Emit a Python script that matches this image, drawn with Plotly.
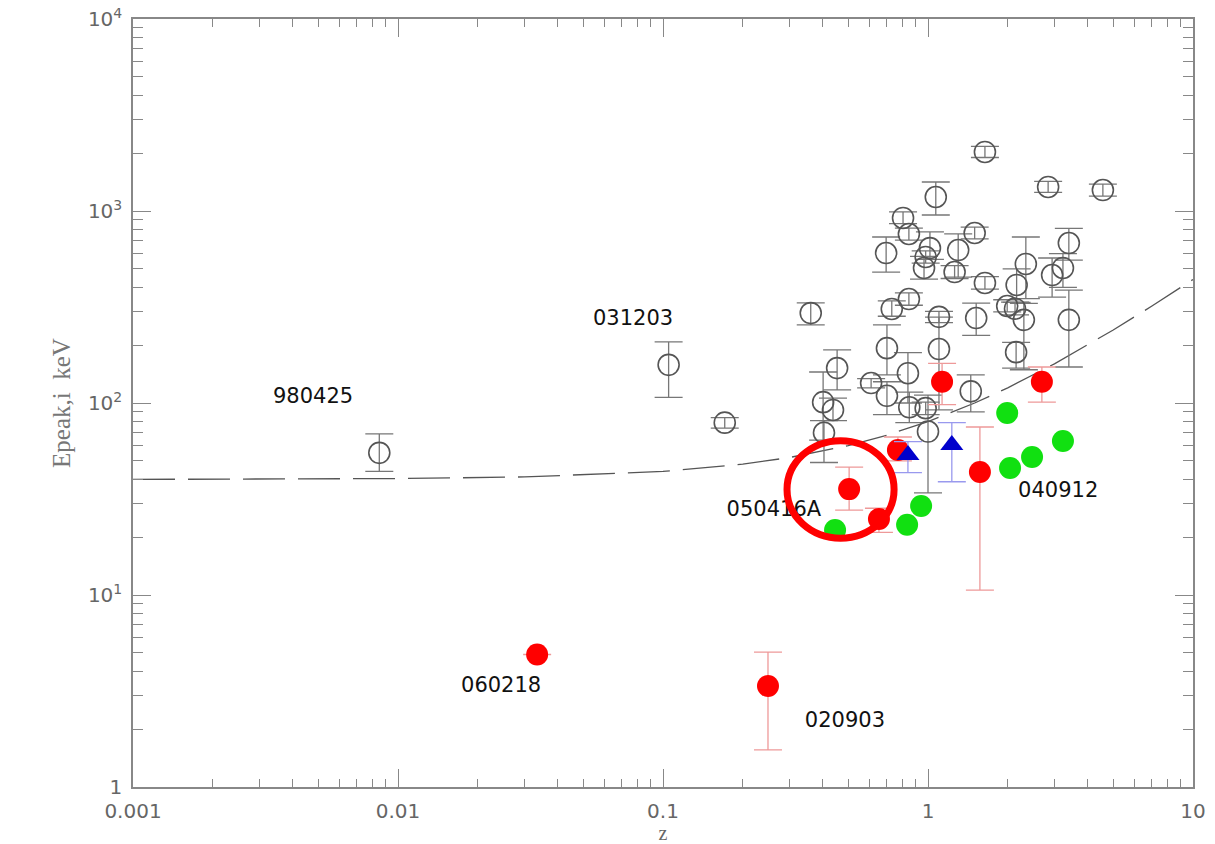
import plotly.graph_objects as go

# ---- GRBs with measured redshift (open circles) ----
grb_z = [0.0085, 0.105, 0.171, 0.361, 0.402, 0.405, 0.438, 0.454, 0.61, 0.695,
         0.70, 0.73, 0.70, 0.805, 0.847, 0.847, 0.84, 0.85, 0.966, 0.98,
         1.017, 1.0, 0.98, 1.07, 1.10, 1.10, 1.26, 1.30, 1.50, 1.52,
         1.64, 1.64, 1.45, 1.99, 2.13, 2.16, 2.15, 2.34, 2.30, 2.84,
         2.94, 3.23, 3.40, 3.40, 4.57]
grb_ep = [55, 158, 79, 294, 101, 70, 92, 152, 127, 604,
          193, 309, 109, 920, 759, 348, 143, 95, 505, 576,
          641, 71, 94, 1183, 281, 191, 481, 626, 768, 277,
          2030, 422, 115, 320, 310, 412, 184, 530, 271, 1334,
          464, 505, 681, 271, 1286]
grb_hi = [69, 208, 84, 332, 145, 81, 106, 189, 134, 732,
          255, 340, 129, 990, 815, 375, 183, 114, 580, 620,
          779, 110, 101, 1416, 300, 280, 520, 760, 825, 331,
          2170, 455, 140, 345, 335, 500, 207, 732, 330, 1425,
          569, 600, 812, 387, 1380]
grb_lo = [44, 107, 74, 255, 64, 49, 81, 117, 120, 481,
          140, 283, 87, 860, 705, 323, 100, 79, 442, 535,
          560, 34, 87, 953, 262, 92, 445, 453, 715, 225,
          1900, 392, 90, 298, 288, 334, 152, 350, 149, 1250,
          356, 400, 555, 154, 1195]

# ---- X-ray flashes (red dots) ----
xrf_z = [0.0335, 0.249, 0.504, 0.653, 0.77, 1.13, 1.57, 2.69]
xrf_ep = [4.9, 3.36, 35.6, 24.9, 56.9, 129, 43.7, 129]
xrf_hi = [4.9, 5.04, 46.4, 28.3, 66.5, 161, 75, 154]
xrf_lo = [4.9, 1.56, 27.7, 21.2, 50, 98, 10.6, 101]

# ---- HETE-2 events (green dots) ----
het_z = [0.446, 0.834, 0.942, 1.99, 2.04, 2.47, 3.23]
het_ep = [21.8, 23.2, 29.1, 88.7, 45.9, 52.3, 63.4]

# ---- Swift events (blue triangles) ----
swf_z = [0.84, 1.23]
swf_ep = [53.6, 60.4]
swf_hi = [63, 79]
swf_lo = [43.4, 38.9]

# ---- dashed reference curve ----
curve_z = [0.001, 0.01, 0.03, 0.1, 0.2, 0.3, 0.5, 0.7, 1.0, 1.5, 2.0, 3.0,
           5.0, 7.0, 10.0]
curve_ep = [40.0, 40.4, 41.2, 44, 48, 52, 60, 68, 80, 100, 120, 160,
            240, 320, 440]

# ---- burst name labels ----
lbl_text = ["980425", "031203", "050416A", "040912", "060218", "020903"]
lbl_z = [0.00478, 0.0771, 0.262, 3.10, 0.0245, 0.486]
lbl_ep = [107, 271, 27.4, 34.4, 3.32, 2.18]

x_ticks = [0.001, 0.01, 0.1, 1, 10]
x_ticktext = ["0.001", "0.01", "0.1", "1", "10"]
y_ticks = [1, 10, 100, 1000, 10000]
y_ticktext = ["1", "10<sup>1</sup>", "10<sup>2</sup>", "10<sup>3</sup>",
              "10<sup>4</sup>"]


def asym(vals, hi, lo):
    plus = [h - v for v, h in zip(vals, hi)]
    minus = [v - l for v, l in zip(vals, lo)]
    return plus, minus


fig = go.Figure()

fig.add_trace(go.Scatter(
    x=curve_z, y=curve_ep, mode="lines",
    line=dict(color="#555555", width=1.3, dash="42px,13px"),
    hoverinfo="skip", showlegend=False))

gp, gm = asym(grb_ep, grb_hi, grb_lo)
fig.add_trace(go.Scatter(
    x=grb_z, y=grb_ep, mode="markers",
    marker=dict(symbol="circle-open", size=21, color="#555555",
                line=dict(width=1.6, color="#555555")),
    error_y=dict(type="data", symmetric=False, array=gp, arrayminus=gm,
                 color="#777777", thickness=1.3, width=14),
    showlegend=False))

rp, rm = asym(xrf_ep, xrf_hi, xrf_lo)
fig.add_trace(go.Scatter(
    x=xrf_z, y=xrf_ep, mode="markers",
    marker=dict(symbol="circle", size=22, color="#ff0000"),
    error_y=dict(type="data", symmetric=False, array=rp, arrayminus=rm,
                 color="#ee9999", thickness=1.3, width=14),
    showlegend=False))

fig.add_trace(go.Scatter(
    x=het_z, y=het_ep, mode="markers",
    marker=dict(symbol="circle", size=22, color="#11e011"),
    showlegend=False))

bp, bm = asym(swf_ep, swf_hi, swf_lo)
fig.add_trace(go.Scatter(
    x=swf_z, y=swf_ep, mode="markers",
    marker=dict(symbol="triangle-up", size=20, color="#0000cc"),
    error_y=dict(type="data", symmetric=False, array=bp, arrayminus=bm,
                 color="#9999ee", thickness=1.3, width=14),
    showlegend=False))

fig.add_trace(go.Scatter(
    x=lbl_z, y=lbl_ep, mode="text", text=lbl_text,
    textfont=dict(family="DejaVu Sans", size=21, color="#111111"),
    hoverinfo="skip", showlegend=False))

# highlight ring around 050416A
fig.add_shape(type="circle", xref="paper", yref="paper",
              x0=0.617, x1=0.718, y0=0.324, y1=0.451,
              line=dict(color="#ff0000", width=7))

axis_common = dict(
    type="log", showline=True, mirror="ticks", linecolor="#888888",
    linewidth=1.5, ticks="inside", ticklen=18, tickwidth=1.3,
    tickcolor="#888888", showgrid=False, zeroline=False,
    tickfont=dict(family="DejaVu Sans", size=20, color="#666666"),
    ticklabelstandoff=5, automargin=False,
)

minor_x = [m * 10.0 ** k for k in range(-3, 1) for m in range(2, 10)]
minor_y = [m * 10.0 ** k for k in range(0, 4) for m in range(2, 10)]

fig.update_xaxes(
    **axis_common, range=[-3, 1], tickmode="array", tickvals=x_ticks,
    ticktext=x_ticktext,
    minor=dict(tickmode="array", tickvals=minor_x, ticks="inside",
               ticklen=8, tickcolor="#888888", tickwidth=1.2),
    title=dict(text="z", font=dict(family="Liberation Serif", size=20,
                                   color="#666666"), standoff=4))
fig.update_yaxes(
    **axis_common, range=[0, 4], tickmode="array", tickvals=y_ticks,
    ticktext=y_ticktext,
    minor=dict(tickmode="array", tickvals=minor_y, ticks="inside",
               ticklen=10, tickcolor="#888888", tickwidth=1.2),
    title=dict(text="Epeak,i  keV",
               font=dict(family="Liberation Serif", size=25,
                         color="#777777"), standoff=10))

fig.update_layout(
    width=1215, height=844,
    margin=dict(l=133, r=22, t=19, b=57),
    paper_bgcolor="white", plot_bgcolor="white",
)

fig.write_html("out.html")
